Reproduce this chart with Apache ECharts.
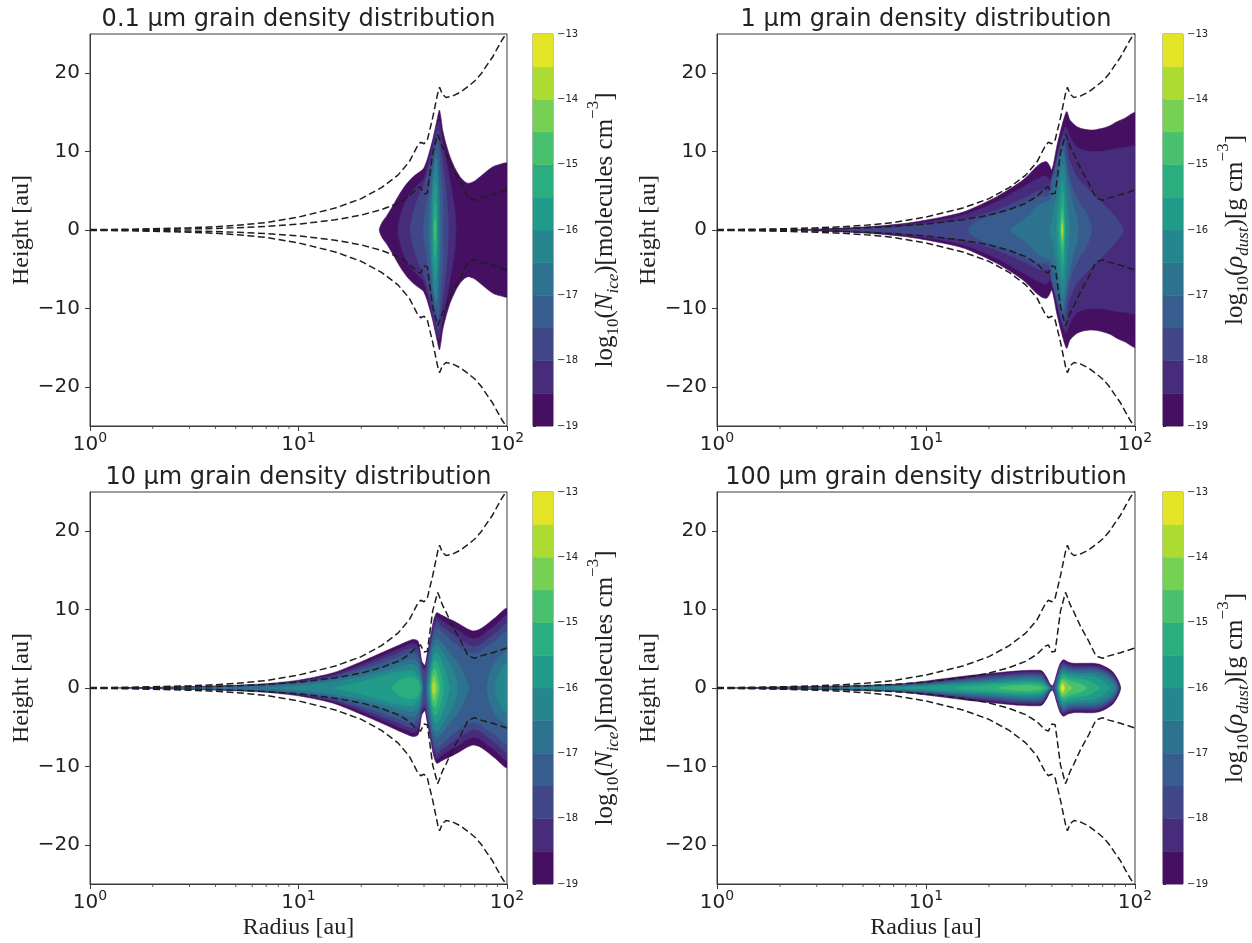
<!DOCTYPE html>
<html><head><meta charset="utf-8">
<script src="https://cdn.jsdelivr.net/npm/echarts@6/dist/echarts.min.js"></script>
<style>html,body{margin:0;padding:0;background:#fff}#c{width:1252px;height:943px}</style>
</head><body><div id="c"></div>
<script>
// ---------- data ----------
const panelTitles = ['0.1 µm grain density distribution','1 µm grain density distribution','10 µm grain density distribution','100 µm grain density distribution'];
const levels = [-19,-18.5,-18,-17.5,-17,-16.5,-16,-15.5,-15,-14.5,-14,-13.5,-13];
const levelColors = ['#461062','#462c7a','#404688','#365d8d','#2d728e','#25878d','#219b89','#2bae7f','#48c06d','#75d054','#acdc31','#e2e425'];
const cbTicks = [-19,-18,-17,-16,-15,-14,-13];
const yTicks = [-20,-10,0,10,20];
const xTicks = [1,10,100];
const minorTicks = [2,3,4,5,6,7,8,9,20,30,40,50,60,70,80,90];

// dashed reference curves (upper half, height in au)
const dashR =     [1,1.5,2,3,4,5,7,10,15,20,25,30,34,37,38.5,40,41.5,44,46.5,47.5,49,51,55,60,65,70,75,80,85,90,95,100];
const dashOuter = [0.05,0.1,0.15,0.28,0.42,0.58,0.95,1.65,2.8,4.0,5.4,7.0,8.7,10.6,11.2,11.0,11.5,14.3,17.4,18.2,17.3,16.9,17.1,17.6,18.3,19.0,19.9,21.0,22.0,23.2,24.3,25.2];
const dashInner = [0.02,0.04,0.07,0.13,0.2,0.28,0.45,0.75,1.3,1.9,2.6,3.4,4.3,5.3,5.5,4.6,4.7,9.8,12.2,11.6,10.6,9.7,7.8,6.0,4.1,3.8,4.1,4.3,4.5,4.7,4.9,5.1];

// contour pieces: [level, radii, upper-boundary heights]; symmetric about midplane
const contour01 = [
 [-19,[24.4,25.2,26.5,28.5,30.7,33,35.5,38,39.7,41.2,42.7,44,45.1,46.3,47.4,48.3,49.1,51,53.3,56.5,59.5,62.5,65.2,69.5,74.3,80,86,93,100],
      [0,1.0,1.8,3.2,4.7,5.9,6.8,7.4,7.8,8.8,10.2,11.5,12.8,14.2,15.3,14.2,12.8,11.0,9.35,7.8,6.8,6.2,5.95,6.2,6.8,7.5,8.1,8.4,8.5]],
 [-18.5,[29.9,30.5,31.8,33.5,35.5,37.5,39.7,41.5,43.5,45,46.4,47.4,48.6,50,51.4,53,54.3,55.5,56.3,56.9],
      [0,1.3,3.0,4.2,5.1,5.8,6.4,8.2,10.6,12.3,13.6,13.9,11.9,10.2,8.5,6.7,5.1,3.5,2.2,0]],
 [-18,[34.3,35,36.2,37.5,39,40.5,41.9,43.5,45.1,46.1,46.8,47.6,48.6,49.5,50.4,51.3,51.8,52.2,52.3],
      [0,1.5,3.0,4.1,5.1,6.3,7.65,9.4,11.05,12.2,12.8,11.5,9.8,8.0,6.4,4.5,3.0,1.5,0]],
 [-17.5,[39.7,40.2,40.9,42,43.5,45.1,46.4,47.2,47.7,48.4,49.1,49.35,49.4],
      [0,1.6,3.0,4.8,7.5,9.8,11.5,10.5,8.9,7.0,5.1,2.5,0]],
 [-17,[41.9,42.3,42.7,43.4,44,44.9,45.7,46.2,46.6,47.1,47.7,47.9],
      [0,1.5,3.0,5.0,7.2,8.8,9.8,9.2,8.1,6.0,3.4,0]],
 [-16.5,[43.2,43.4,43.6,44.1,44.7,45.4,45.9,46.3,46.5,46.8,47.0],
      [0,2,3.8,5.8,7.7,8.6,8.9,7.8,6.4,3.5,0]],
 [-16,[44.0,44.15,44.3,44.7,45.1,45.6,46.0,46.2,46.3],[0,2.5,4.3,5.5,6.4,6.0,5.1,3,0]],
 [-15.5,[44.5,44.7,45.0,45.4,45.8,46.0],[0,2.2,3.6,3.4,2,0]],
 [-15,[44.8,45.0,45.3,45.5],[0,1.4,1.4,0]]
];
const contour1 = [
 [-19,[2.4,3,4,5,6.5,8,10.5,15.1,21.8,29.2,33.9,36,37.8,39,39.9,41,42.2,44.6,47.1,48.9,52.6,56,60.9,65,70.5,76,81.8,90,100],
      [0,0.12,0.25,0.38,0.6,0.85,1.36,2.3,4.25,6.4,8.1,8.6,8.7,8.2,7.65,8.8,10.6,13.2,15.1,14.0,13.2,12.9,12.75,12.8,13.0,13.3,13.8,14.3,14.9]],
 [-18.5,[3,4,5,6.5,8,10.5,15.1,21.8,29.2,33,36.1,37.5,39.3,40.5,42.2,44.6,46.7,48.9,52.6,58,65.6,73,81.8,90,100],
      [0,0.15,0.27,0.45,0.66,1.06,1.9,3.6,5.5,6.3,6.8,6.9,6.4,7.3,9.35,11.9,13.2,11.9,10.6,10.1,10.0,10.1,10.4,10.5,10.6]],
 [-18,[4,5,6.5,8,10.5,15.1,21.8,29.2,34,36.1,38.5,39.9,41.4,44,46.3,48,52.6,60.9,70,78.6,84,88.2],
      [0,0.14,0.3,0.48,0.77,1.28,2.55,4.0,4.9,5.1,5.0,4.8,7.65,11.05,12.3,9.35,6.8,5.0,3.4,2.0,1.0,0]],
 [-17.5,[15.9,16.5,18.1,21,25.2,28.5,31.5,34,36.1,37.5,38.8,39.9,41.5,43,45.5,47.1,48.5,50.7,54,58.7,61,62.1],
      [0,0.6,1.28,1.9,2.55,3.2,3.8,4.1,4.25,4.2,4.5,6.4,8.0,9.35,11.05,8.5,6.8,5.1,3.6,2.1,1.0,0]],
 [-17,[25.2,27,29.2,31.5,33.9,36,37.8,39.5,40.6,42,43,44.2,45.1,46,46.7,48,49.7,51,52.6,53.6],
      [0,0.7,1.28,2.1,3.0,3.4,3.6,3.9,5.0,6.6,8.1,9.3,10.2,9.3,8.1,6.0,4.25,2.8,1.7,0]],
 [-16.5,[39.1,40,40.6,41.8,43,44,45.1,45.8,46.5,47.2,48,48.4,48.6],
      [0,1.2,2.1,3.8,5.5,7.0,8.5,7.8,6.4,4.3,2.1,1.0,0]],
 [-16,[42.2,42.7,43.5,44.2,44.8,45.3,45.8,46.3,46.8],[0,2,3.8,5.2,6.4,5.8,4.7,2.5,0]],
 [-15.5,[43.5,43.8,44.5,45.1,45.6,46.0],[0,1.8,3.0,4.7,2.1,0]],
 [-15,[44.1,44.4,44.8,45.1,45.4,45.6],[0,1.5,2.3,2.6,1.5,0]],
 [-14.5,[44.4,44.7,45.0,45.3],[0,1.2,1.4,0]],
 [-14,[44.6,44.8,45.05],[0,0.7,0]]
];
const contour10 = [
 [-19,[1.3,2,3,5,7,10,14.7,21.2,28.5,33,35.5,37.4,38.3,39,40.4,41.2,42,43.2,44.4,46,48.5,51.4,55,59.5,64,68.9,74,79.9,88,100],
      [0,0.08,0.18,0.35,0.55,1.0,1.95,3.65,5.15,5.9,6.2,6.0,4.8,3.45,2.9,4.0,5.15,6.9,8.55,9.6,9.3,8.97,8.6,8.1,7.6,7.27,7.5,8.1,9.0,10.1]],
 [-18.5,[1.5,2,3,5,7,10,14.7,21.2,28.5,33,35.5,37.4,38.3,39,40.4,41.2,42,43.2,44.4,46,48.5,51.4,55,59.5,64,68.9,74,79.9,88,100],
      [0,0.06,0.15,0.3,0.47,0.85,1.7,3.25,4.7,5.4,5.7,5.4,4.3,3.0,2.5,3.6,4.7,6.4,8.0,9.1,8.6,8.2,7.7,7.2,6.6,6.3,6.5,7.2,8.0,9.2]],
 [-18,[1.8,3,5,7,10,14.7,21.2,28.5,33,35.5,37.4,38.3,39,40.4,41.2,42,43.2,44.4,46,48.5,51.4,55,59.5,64,68.9,74,79.9,88,100],
      [0,0.12,0.25,0.4,0.75,1.5,2.9,4.2,4.9,5.1,4.7,3.8,2.6,2.1,3.2,4.2,5.9,7.4,8.5,7.9,7.4,6.8,6.2,5.6,5.3,5.5,6.2,7.0,8.2]],
 [-17.5,[2.2,3,5,7,10,14.7,21.2,28.5,33,35.5,37.4,38.3,39,39.6],
      [0,0.08,0.2,0.33,0.65,1.3,2.55,3.7,4.3,4.5,4.0,3.0,1.8,0]],
 [-17.5,[40.9,41.3,42,43.2,44.4,46,48.5,51.4,55,59.5,64,68.9,74,79.9,88,100],
      [0,1.8,3.5,5.3,6.8,7.7,7.2,6.6,5.9,5.2,4.6,4.4,4.6,5.3,6.0,7.2]],
 [-17,[2.8,4,5,7,10,14.7,21.2,28.5,33,35.5,37.4,38.3,39,39.4],
      [0,0.1,0.15,0.27,0.55,1.05,2.1,3.1,3.55,3.7,3.2,2.4,1.2,0]],
 [-17,[41.3,41.8,42.4,43.2,44.4,46,48.5,51.4,55,59.5,62,64,65.5],
      [0,1.8,3.0,4.6,5.8,6.4,5.8,5.0,4.0,2.8,1.8,0.9,0]],
 [-17,[80,82,85,90,95,100],[0,1.5,2.7,3.7,4.3,4.7]],
 [-16.5,[7,10,14.7,21.2,28.5,33,35.5,37.4,38.3,39,39.2],
      [0,0.3,0.75,1.6,2.45,2.9,3.0,2.5,1.6,0.6,0]],
 [-16.5,[41.8,42.3,43,44,45,46.3,48.5,51.4,55,58],[0,1.6,3.0,4.5,5.3,5.5,4.8,3.8,2.3,0]],
 [-16.5,[88,90,94,100],[0,1.5,2.4,3.2]],
 [-16,[15,18,21.2,25,28.5,33,35.5,37.4,38.3,38.8],[0,0.5,1.0,1.5,1.9,2.2,2.2,1.6,0.8,0]],
 [-16,[42.3,42.8,43.5,44.8,46,47.5,50,51.5,53],[0,1.5,2.8,4.3,4.5,4.0,2.5,1.3,0]],
 [-15.5,[28,30,32,34.5,36.5,37.8,38.3],[0,0.8,1.2,1.4,1.2,0.7,0]],
 [-15.5,[42.7,43.1,43.8,45,46.3,47.5,49.5],[0,1.3,2.5,3.5,3.2,2.4,0]],
 [-15,[43.2,43.6,44.2,45.2,46.2,47.5],[0,1.3,2.2,2.5,1.8,0]],
 [-14.5,[43.6,44,44.4,45.3,46.3],[0,1.0,1.6,1.4,0]],
 [-14,[43.9,44.2,44.5,45.0,45.4],[0,0.6,0.9,0.6,0]]
];
const contour100 = [
 [-19,[1.2,2,3,5,7.5,10.8,15.7,22.6,28,32.6,35.8,37.8,39.2,40.3,41.2,42.2,43.8,45.4,48,50.7,57,63.2,68,73.3,78,81.7,84,85.5],
      [0,0.12,0.2,0.33,0.5,1.0,1.55,1.97,2.2,2.27,2.2,1.36,0.5,0.3,0.8,1.8,3.1,3.6,3.3,3.15,3.15,3.15,3.0,2.6,2.1,1.36,0.7,0]],
 [-18.5,[1.4,2,3,5,7.5,10.8,15.7,22.6,28,32.6,35.8,37.8,39.2,40.3,41.2,42.2,43.8,45.4,48,50.7,57,63.2,68,73.3,78,81.7,84.5],
      [0,0.1,0.17,0.29,0.44,0.88,1.38,1.78,2.0,2.05,1.97,1.15,0.38,0.2,0.65,1.6,2.85,3.35,3.05,2.9,2.9,2.9,2.75,2.35,1.85,1.1,0]],
 [-18,[1.7,3,5,7.5,10.8,15.7,22.6,28,32.6,35.8,37.8,39.2,40.3,41.2,42.2,43.8,45.4,48,50.7,57,63.2,68,73.3,78,81.7,83.5],
      [0,0.14,0.25,0.38,0.76,1.2,1.58,1.8,1.84,1.75,0.95,0.28,0.12,0.5,1.4,2.6,3.1,2.8,2.65,2.65,2.65,2.5,2.1,1.6,0.85,0]],
 [-17.5,[2,3,5,7.5,10.8,15.7,22.6,28,32.6,35.8,37.8,39,39.8],
      [0,0.11,0.21,0.32,0.64,1.02,1.38,1.58,1.62,1.5,0.75,0.2,0]],
 [-17.5,[41.4,42.2,43.8,45.4,48,50.7,57,63.2,68,73.3,78,81.7,82.8],
      [0,1.2,2.35,2.85,2.55,2.4,2.4,2.4,2.25,1.85,1.35,0.6,0]],
 [-17,[2.5,3,5,7.5,10.8,15.7,22.6,28,32.6,35.8,37.8,39.4],
      [0,0.08,0.17,0.26,0.52,0.85,1.18,1.36,1.4,1.25,0.55,0]],
 [-17,[41.8,42.6,43.8,45.4,48,50.7,57,63.2,68,73.3,78,80.5,81.8],
      [0,1.0,2.05,2.55,2.3,2.15,2.15,2.1,1.95,1.6,1.1,0.6,0]],
 [-16.5,[4,5,7.5,10.8,15.7,22.6,28,32.6,35.8,37.8,39],[0,0.12,0.2,0.4,0.68,0.95,1.12,1.15,1.0,0.4,0]],
 [-16.5,[42.2,43,43.8,45.4,48,50.7,57,63.2,68,73.3,77,80.5],[0,0.9,1.75,2.25,2.0,1.9,1.85,1.8,1.6,1.25,0.8,0]],
 [-16,[7,10.8,15.7,22.6,28,32.6,35.8,37.5,38.5],[0,0.25,0.5,0.72,0.88,0.9,0.75,0.3,0]],
 [-16,[42.6,43.2,43.8,45.4,48,50.7,57,63.2,68,72,76],[0,0.8,1.45,1.95,1.7,1.6,1.5,1.4,1.15,0.7,0]],
 [-15.5,[14,18,22.6,28,32.6,35.5,37.2,38],[0,0.3,0.5,0.62,0.65,0.5,0.2,0]],
 [-15.5,[43,43.5,44.3,45.4,48,50.7,55,60,64,68],[0,0.7,1.25,1.6,1.35,1.2,1.1,0.9,0.5,0]],
 [-15,[22,25,28,31,33.5,35.5,36.8],[0,0.25,0.35,0.38,0.3,0.15,0]],
 [-15,[43.4,44,44.8,46,48.5,52,56,59],[0,0.75,1.15,1.2,0.9,0.7,0.4,0]],
 [-14.5,[43.8,44.3,45,46.2,48,50],[0,0.7,0.95,0.8,0.4,0]],
 [-14,[44.1,44.6,45.2,46.2],[0,0.55,0.6,0]],
 [-13.5,[44.4,44.8,45.3,45.9],[0,0.35,0.35,0]]
];
const panelContours = [contour01, contour1, contour10, contour100];

// ---------- layout ----------
const plotGrids = [
  {left:90, top:34, width:417, height:392},
  {left:717, top:34, width:418, height:392},
  {left:90, top:492, width:417, height:392},
  {left:717, top:492, width:418, height:392}
];
const cbGrids = [
  {left:533, top:34, width:20, height:392},
  {left:1163, top:34, width:20, height:392},
  {left:533, top:492, width:20, height:392},
  {left:1163, top:492, width:20, height:392}
];
const FRAME = '#3a3a3a';
const minus = v => (v < 0 ? '\u2212' : '') + Math.abs(v);

const grid = [], xAxis = [], yAxis = [], series = [], graphic = [];

plotGrids.forEach((g, i) => {
  grid.push(Object.assign({show:true, borderColor:FRAME, borderWidth:1, backgroundColor:'transparent'}, g));
  xAxis.push({
    gridIndex:i, type:'log', logBase:10, min:1, max:100,
    axisLine:{show:true, onZero:false, lineStyle:{color:FRAME, width:1}},
    axisTick:{show:true, length:5, lineStyle:{color:FRAME}, customValues:xTicks},
    axisLabel:{margin:5, customValues:xTicks,
      formatter: v => '{a|10}{b|' + Math.round(Math.log10(v)) + '}',
      rich:{a:{fontFamily:'DejaVu Sans', fontSize:20, color:'#222', verticalAlign:'bottom'},
            b:{fontFamily:'DejaVu Sans', fontSize:14, color:'#222', verticalAlign:'bottom', padding:[0,0,10,0]}}},
    splitLine:{show:false},
    name: i >= 2 ? 'Radius [au]' : '', nameLocation:'middle', nameGap:32,
    nameTextStyle:{fontFamily:'Liberation Serif', fontSize:24, color:'#222'}
  });
  yAxis.push({
    gridIndex:i, type:'value', min:-25, max:25,
    axisLine:{show:true, onZero:false, lineStyle:{color:FRAME, width:1}},
    axisTick:{show:true, length:5, lineStyle:{color:FRAME}, customValues:yTicks},
    axisLabel:{margin:10, fontFamily:'DejaVu Sans', fontSize:20, color:'#222', customValues:yTicks, formatter:minus},
    splitLine:{show:false},
    name:'Height [au]', nameLocation:'middle', nameGap:47,
    nameTextStyle:{fontFamily:'Liberation Serif', fontSize:24, color:'#222'}
  });
});
cbGrids.forEach((g, j) => {
  grid.push(Object.assign({show:true, borderColor:'#555', borderWidth:0.8}, g));
  xAxis.push({gridIndex:4+j, type:'value', min:0, max:1, show:false});
  yAxis.push({
    gridIndex:4+j, type:'value', min:-19, max:-13, interval:1, position:'right',
    axisLine:{show:false},
    axisTick:{show:true, length:3, lineStyle:{color:'#333'}},
    axisLabel:{margin:4, fontFamily:'DejaVu Sans', fontSize:10, color:'#222', formatter:minus},
    splitLine:{show:false}
  });
});

// contour fills
panelContours.forEach((pieces, i) => {
  series.push({
    type:'custom', xAxisIndex:i, yAxisIndex:i, clip:true, z:1, silent:true,
    data: pieces.map(p => [p[1][0], 0]),
    renderItem: (params, api) => {
      const p = pieces[params.dataIndex];
      const rs = p[1], zs = p[2];
      const pts = [];
      for (let k = 0; k < rs.length; k++) pts.push(api.coord([rs[k], zs[k]]));
      for (let k = rs.length - 1; k >= 0; k--) {
        if (zs[k] === 0) continue;
        pts.push(api.coord([rs[k], -zs[k]]));
      }
      const col = levelColors[Math.round((p[0] - levels[0]) / 0.5)];
      return {type:'polygon', shape:{points:pts, smooth:0.25},
              style:{fill:col, stroke:col, lineWidth:0.6}};
    }
  });
  // dashed reference curves
  [dashOuter, dashInner].forEach(arr => {
    [1, -1].forEach(sgn => {
      series.push({
        type:'line', xAxisIndex:i, yAxisIndex:i, z:3, symbol:'none', silent:true, clip:true,
        data: dashR.map((r, k) => [r, sgn * arr[k]]),
        lineStyle:{color:'#1e1e1e', width:1.5, type:[7,3.5]}
      });
    });
  });
  // log minor ticks
  series.push({
    type:'custom', xAxisIndex:i, yAxisIndex:i, clip:false, z:4, silent:true,
    data: minorTicks.map(v => [v, -25]),
    renderItem: (params, api) => {
      const pt = api.coord([api.value(0), -25]);
      return {type:'line', shape:{x1:pt[0], y1:pt[1], x2:pt[0], y2:pt[1] + 3},
              style:{stroke:FRAME, lineWidth:0.8}};
    }
  });
});

// colorbars
const cbBands = levels.slice(0, -1).map((lo, k) => [lo, levels[k + 1]]);
cbGrids.forEach((g, j) => {
  series.push({
    type:'custom', xAxisIndex:4+j, yAxisIndex:4+j, silent:true, z:1,
    data: cbBands.map(b => [0, b[0], b[1]]),
    renderItem: (params, api) => {
      const p0 = api.coord([0, api.value(2)]);
      const p1 = api.coord([1, api.value(1)]);
      const col = levelColors[params.dataIndex];
      return {type:'rect', shape:{x:p0[0], y:p0[1], width:p1[0]-p0[0], height:p1[1]-p0[1]},
              style:{fill:col, stroke:col, lineWidth:0.5}};
    }
  });
});

// titles
plotGrids.forEach((g, i) => {
  graphic.push({type:'text', x:g.left + g.width / 2, y:g.top - 14,
    style:{text:panelTitles[i], fontFamily:'DejaVu Sans', fontSize:24, fill:'#222', align:'center', verticalAlign:'middle'}});
});
// colorbar labels (rotated)
const cbLabelIce = '{n|log}{s|10}{n|(}{i|N}{si|ice}{n|)[molecules cm}{p|\u22123}{n|]}';
const cbLabelDust = '{n|log}{s|10}{n|(}{i|\u03c1}{si|dust}{n|)[g cm}{p|\u22123}{n|]}';
const cbRich = {
  n:{fontFamily:'Liberation Serif', fontSize:25, fill:'#222', verticalAlign:'bottom', padding:[0,0,5,0]},
  i:{fontFamily:'Liberation Serif', fontStyle:'italic', fontSize:25, fill:'#222', verticalAlign:'bottom', padding:[0,0,5,0]},
  s:{fontFamily:'Liberation Serif', fontSize:17, fill:'#222', verticalAlign:'bottom', padding:[0,0,0,0]},
  si:{fontFamily:'Liberation Serif', fontStyle:'italic', fontSize:17, fill:'#222', verticalAlign:'bottom', padding:[0,0,0,0]},
  p:{fontFamily:'Liberation Serif', fontSize:17, fill:'#222', verticalAlign:'bottom', padding:[0,0,20,0]}
};
cbGrids.forEach((g, j) => {
  graphic.push({type:'text', x:g.left + g.width + 51, y:g.top + g.height / 2, rotation:Math.PI / 2,
    style:{text:(j % 2 === 0 ? cbLabelIce : cbLabelDust), rich:cbRich, align:'center', verticalAlign:'middle'}});
});

const chart = echarts.init(document.getElementById('c'), null, {renderer:'canvas'});
chart.setOption({animation:false, backgroundColor:'#fff', grid, xAxis, yAxis, series, graphic});
</script>
</body></html>
